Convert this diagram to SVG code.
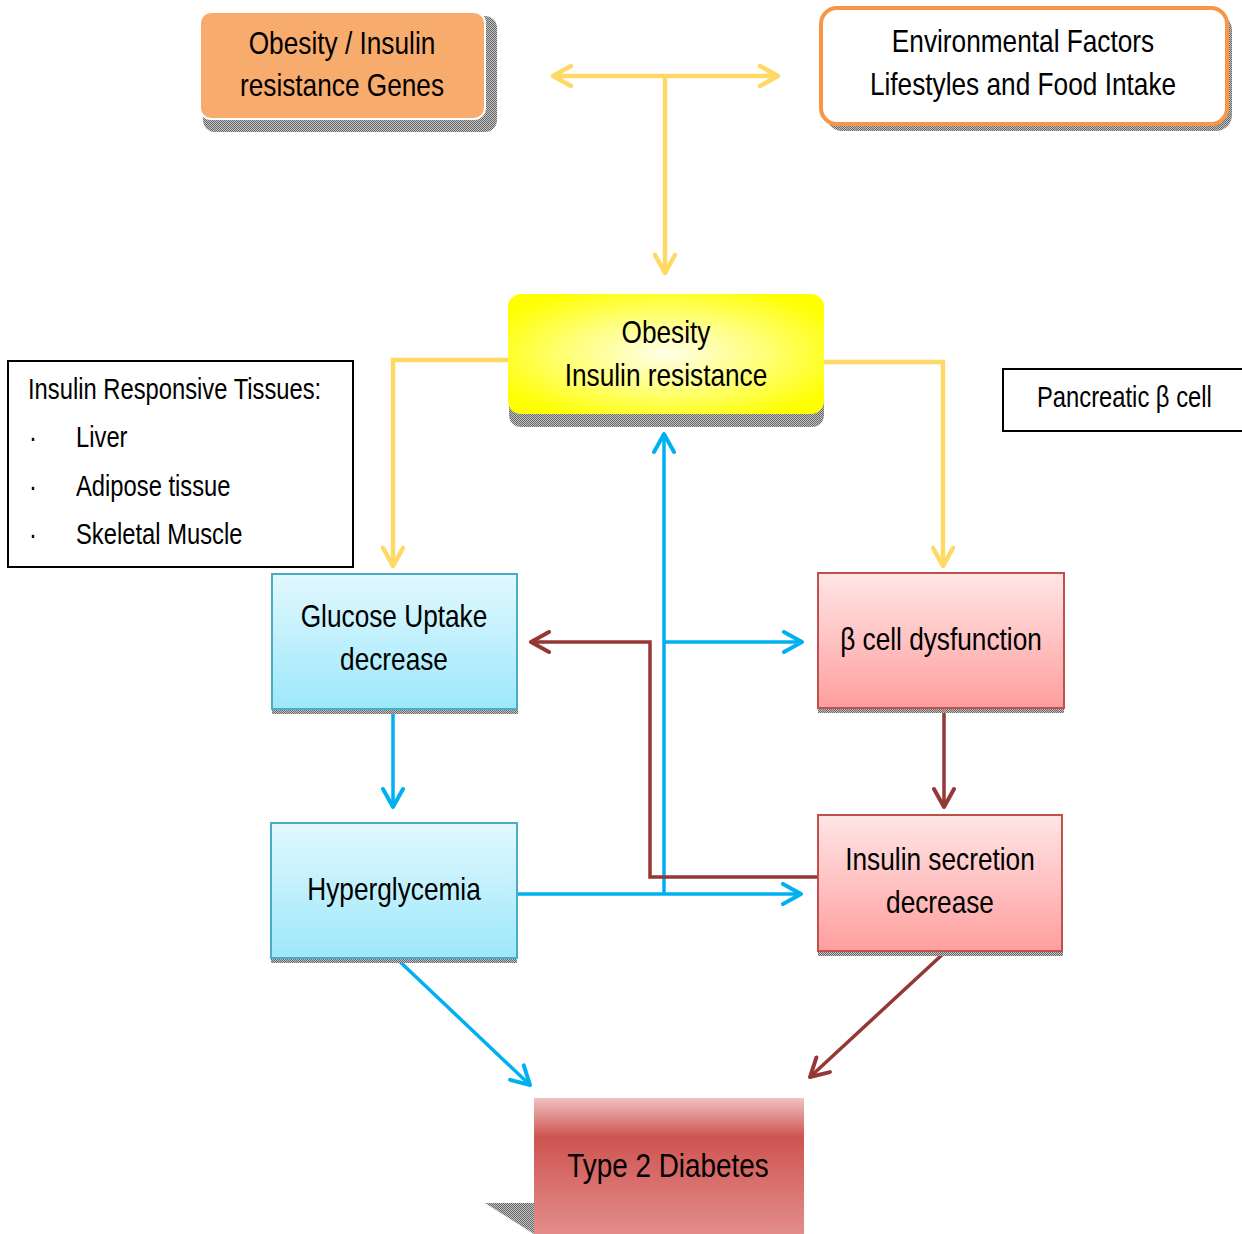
<svg xmlns="http://www.w3.org/2000/svg" width="1242" height="1234" viewBox="0 0 1242 1234">
<style>
text{font-family:"Liberation Sans",Arial,sans-serif;fill:#000}
.t32{font-size:32px;text-anchor:middle}
.t29{font-size:29px}
.shadow{fill:url(#dots)}
.yl{fill:none;stroke:#FFD966;stroke-width:4.5;marker-end:url(#ay)}
.bl{fill:none;stroke:#00B0F0;stroke-width:3.5;marker-end:url(#ab)}
.rd{fill:none;stroke:#953735;stroke-width:3.5;marker-end:url(#ar)}
.blue{fill:url(#gBlue);stroke:#4BACC6;stroke-width:2}
.pink{fill:url(#gPink);stroke:#C0504D;stroke-width:2}
</style>
<defs>
<pattern id="dots" width="2" height="2" patternUnits="userSpaceOnUse">
<rect width="2" height="2" fill="#c4c4c4"/>
<rect width="1" height="1" fill="#666"/>
<rect x="1" y="1" width="1" height="1" fill="#666"/>
</pattern>
<radialGradient id="gYellow" cx="50%" cy="50%" r="60%">
<stop offset="0" stop-color="#FFFFE8"/>
<stop offset="0.55" stop-color="#FFFF70"/>
<stop offset="1" stop-color="#FFFF00"/>
</radialGradient>
<linearGradient id="gBlue" x1="0" y1="0" x2="0" y2="1">
<stop offset="0" stop-color="#E2F8FE"/>
<stop offset="1" stop-color="#9CE8FB"/>
</linearGradient>
<linearGradient id="gPink" x1="0" y1="0" x2="0" y2="1">
<stop offset="0" stop-color="#FFE6E6"/>
<stop offset="1" stop-color="#FF9E9E"/>
</linearGradient>
<linearGradient id="gRed" x1="0" y1="0" x2="0" y2="1">
<stop offset="0" stop-color="#F0C2C2"/>
<stop offset="0.08" stop-color="#E6A2A1"/>
<stop offset="0.28" stop-color="#CE5451"/>
<stop offset="0.6" stop-color="#D86F6C"/>
<stop offset="1" stop-color="#E28F8D"/>
</linearGradient>
<marker id="ay" viewBox="0 0 24 24" refX="21" refY="12" markerWidth="24" markerHeight="24" markerUnits="userSpaceOnUse" orient="auto-start-reverse">
<path d="M3,2 L21,12 L3,22" fill="none" stroke="#FFD966" stroke-width="4.5" stroke-linecap="round" stroke-linejoin="round"/>
</marker>
<marker id="ab" viewBox="0 0 24 24" refX="21" refY="12" markerWidth="24" markerHeight="24" markerUnits="userSpaceOnUse" orient="auto-start-reverse">
<path d="M3,2 L21,12 L3,22" fill="none" stroke="#00B0F0" stroke-width="4" stroke-linecap="round" stroke-linejoin="round"/>
</marker>
<marker id="ar" viewBox="0 0 24 24" refX="21" refY="12" markerWidth="24" markerHeight="24" markerUnits="userSpaceOnUse" orient="auto-start-reverse">
<path d="M3,2 L21,12 L3,22" fill="none" stroke="#953735" stroke-width="4" stroke-linecap="round" stroke-linejoin="round"/>
</marker>
</defs>
<rect width="1242" height="1234" fill="#fff"/>

<g id="connectors">
<path class="yl" d="M553,76 L778,76" marker-start="url(#ay)"/>
<path class="yl" d="M665,76 L665,273"/>
<path class="yl" d="M509,360 L393,360 L393,566"/>
<path class="yl" d="M822,362 L943,362 L943,566"/>
<path class="bl" d="M664,894 L664,434"/>
<path class="bl" d="M664,642 L802,642"/>
<path class="bl" d="M393,710 L393,807"/>
<path class="bl" d="M517,894 L801,894"/>
<path class="bl" d="M396,958 L530,1085"/>
<path class="rd" d="M818,877 L650,877 L650,642 L531,642"/>
<path class="rd" d="M944,710 L944,807"/>
<path class="rd" d="M944,953 L810,1077"/>
</g>

<g id="genes">
<rect class="shadow" x="203" y="16" width="294" height="116" rx="12"/>
<rect x="200" y="12" width="285" height="107" rx="11" fill="#F7AB6D" stroke="#fff" stroke-width="2"/>
<text class="t32" transform="translate(342,54) scale(0.82,1)">Obesity / Insulin</text>
<text class="t32" transform="translate(342,96) scale(0.82,1)">resistance Genes</text>
</g>

<g id="environment">
<rect class="shadow" x="826" y="14" width="406" height="117" rx="16"/>
<rect x="821" y="8" width="406" height="116" rx="16" fill="#fff" stroke="#F79646" stroke-width="4"/>
<text class="t32" transform="translate(1023,52) scale(0.82,1)">Environmental Factors</text>
<text class="t32" transform="translate(1023,95) scale(0.82,1)">Lifestyles and Food Intake</text>
</g>

<g id="obesity">
<rect class="shadow" x="509" y="302" width="315" height="125" rx="12"/>
<rect x="508" y="294" width="316" height="120" rx="13" fill="url(#gYellow)"/>
<text class="t32" transform="translate(666,343) scale(0.82,1)">Obesity</text>
<text class="t32" transform="translate(666,386) scale(0.82,1)">Insulin resistance</text>
</g>

<g id="tissues">
<rect x="8" y="361" width="345" height="206" fill="#fff" stroke="#000" stroke-width="2"/>
<text class="t29" transform="translate(28,399) scale(0.82,1)">Insulin Responsive Tissues:</text>
<text class="t29" transform="translate(29,447) scale(0.82,1)">·</text>
<text class="t29" transform="translate(76,447) scale(0.82,1)">Liver</text>
<text class="t29" transform="translate(29,496) scale(0.82,1)">·</text>
<text class="t29" transform="translate(76,496) scale(0.82,1)">Adipose tissue</text>
<text class="t29" transform="translate(29,544) scale(0.82,1)">·</text>
<text class="t29" transform="translate(76,544) scale(0.82,1)">Skeletal Muscle</text>
</g>

<g id="pancreatic">
<rect x="1003" y="369" width="250" height="62" fill="#fff" stroke="#000" stroke-width="2"/>
<text class="t29" transform="translate(1037,407) scale(0.82,1)">Pancreatic β cell</text>
</g>

<g id="glucose">
<rect class="shadow" x="272" y="708" width="246" height="6"/>
<rect class="blue" x="272" y="574" width="245" height="135"/>
<text class="t32" transform="translate(394,627) scale(0.82,1)">Glucose Uptake</text>
<text class="t32" transform="translate(394,670) scale(0.82,1)">decrease</text>
</g>

<g id="beta">
<rect class="shadow" x="818" y="707" width="246" height="6"/>
<rect class="pink" x="818" y="573" width="246" height="135"/>
<text class="t32" transform="translate(941,650) scale(0.82,1)">β cell dysfunction</text>
</g>

<g id="hyper">
<rect class="shadow" x="271" y="957" width="246" height="6"/>
<rect class="blue" x="271" y="823" width="246" height="135"/>
<text class="t32" transform="translate(394,900) scale(0.82,1)">Hyperglycemia</text>
</g>

<g id="secretion">
<rect class="shadow" x="818" y="950" width="245" height="6"/>
<rect class="pink" x="818" y="815" width="244" height="136"/>
<text class="t32" transform="translate(940,870) scale(0.82,1)">Insulin secretion</text>
<text class="t32" transform="translate(940,913) scale(0.82,1)">decrease</text>
</g>

<g id="diabetes">
<polygon class="shadow" points="485,1203 534,1203 534,1234"/>
<rect x="534" y="1098" width="270" height="140" fill="url(#gRed)"/>
<text transform="translate(668,1177) scale(0.82,1)" style="font-size:34px;text-anchor:middle">Type 2 Diabetes</text>
</g>
</svg>
